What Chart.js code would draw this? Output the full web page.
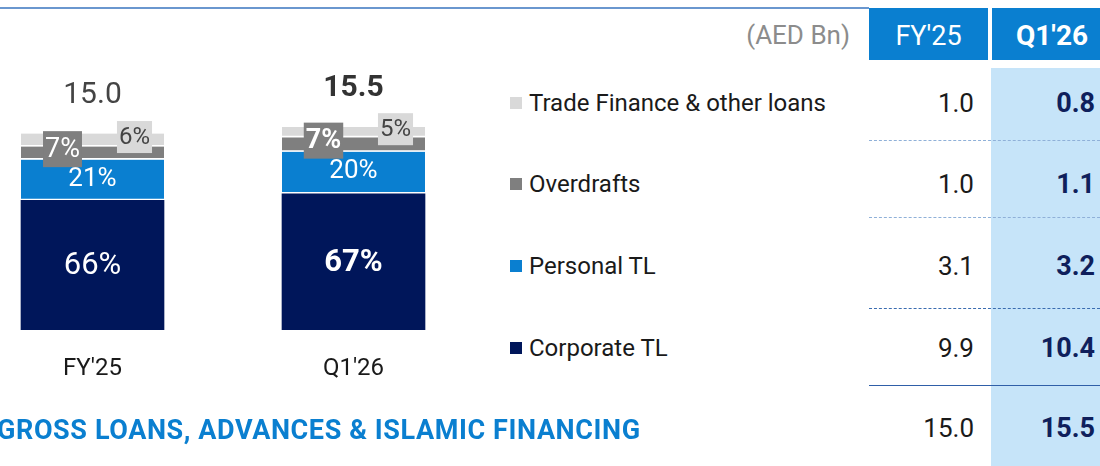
<!DOCTYPE html>
<html>
<head>
<meta charset="utf-8">
<script src="https://cdn.jsdelivr.net/npm/chart.js@4.4.1/dist/chart.umd.min.js"></script>
<style>
  html, body { margin: 0; padding: 0; background: #fff; }
  body { width: 1100px; height: 466px; position: relative; overflow: hidden; font-family: Roboto, sans-serif; }
  #chartBox { position: absolute; left: -38px; top: 0; width: 522px; height: 466px; }
  .t { position: absolute; line-height: 1; transform: translateY(-50%); white-space: nowrap; }
  .topline { position: absolute; left: 0; top: 7px; width: 869px; height: 0; border-top: 2px solid #6a97cf; }
  .hcell { position: absolute; top: 8px; height: 52px; background: #0a7fd0; }
  .qcol { position: absolute; left: 991px; top: 68px; width: 109px; height: 398px; background: #c6e4f9; }
  .sep { position: absolute; left: 869px; width: 231px; height: 0; }
  .sq { position: absolute; left: 510px; width: 12px; height: 12px; transform: translateY(-50%); }
</style>
</head>
<body>
<div class="topline"></div>
<div class="hcell" style="left:869px;width:119px;"></div>
<div class="hcell" style="left:992px;width:108px;"></div>
<div class="qcol"></div>
<div id="table"></div>
<div id="chartBox"><canvas id="loansChart"></canvas></div>
<div class="t" style="left:-3px;top:430px;font-size:27px;font-weight:bold;color:#0a7fd0;letter-spacing:0.6px;">GROSS LOANS, ADVANCES &amp; ISLAMIC FINANCING</div>

<script>
// data
const categories = ["FY'25", "Q1'26"];
const seriesNames = ['Corporate TL', 'Personal TL', 'Overdrafts', 'Trade Finance & other loans'];
const corporateTL = [9.9, 10.4];
const personalTL = [3.1, 3.2];
const overdrafts = [1.0, 1.1];
const tradeFinance = [1.0, 0.8];
const totals = [15.0, 15.5];
const corporatePct = ['66%', '67%'];
const personalPct = ['21%', '20%'];
const overdraftPct = ['7%', '7%'];
const tradePct = ['6%', '5%'];

const colors = ['#00165a', '#0a7fd0', '#7f7f7f', '#d9d9d9'];
const FONT = 'Roboto, sans-serif';

// table on the right (rows top to bottom)
const rowY = [103, 184, 266, 348];
const rowSeries = [3, 2, 1, 0];
const allSeries = [corporateTL, personalTL, overdrafts, tradeFinance];
let html = '';
html += '<div class="t" style="right:250px;top:35px;font-size:26px;color:#8c8c8c;">(AED Bn)</div>';
html += '<div class="t" style="left:869px;width:119px;text-align:center;top:36px;font-size:27px;color:#fff;">' + categories[0] + '</div>';
html += '<div class="t" style="left:1016px;top:36px;font-size:28px;font-weight:bold;color:#fff;">' + categories[1] + '</div>';
rowY.forEach(function(y, r) {
    const s = rowSeries[r];
    html += '<div class="sq" style="top:' + y + 'px;background:' + colors[s] + ';"></div>';
    html += '<div class="t" style="left:529px;top:' + y + 'px;font-size:24px;color:#1a1a1a;">' + seriesNames[s].replace('&', '&amp;') + '</div>';
    html += '<div class="t" style="right:126px;top:' + y + 'px;font-size:26px;color:#1a1a1a;">' + allSeries[s][0].toFixed(1) + '</div>';
    html += '<div class="t" style="right:5px;top:' + y + 'px;font-size:27px;font-weight:bold;color:#0f1f5c;">' + allSeries[s][1].toFixed(1) + '</div>';
});
html += '<div class="t" style="right:126px;top:428px;font-size:26px;color:#1a1a1a;">' + totals[0].toFixed(1) + '</div>';
html += '<div class="t" style="right:5px;top:428px;font-size:27px;font-weight:bold;color:#0f1f5c;">' + totals[1].toFixed(1) + '</div>';
html += '<div class="sep" style="top:140px;border-top:1px dashed #8fb0d8;"></div>';
html += '<div class="sep" style="top:217px;border-top:1px dashed #8fb0d8;"></div>';
html += '<div class="sep" style="top:308px;border-top:1px dashed #3a6cb0;"></div>';
html += '<div class="sep" style="top:385px;border-top:1.5px solid #2f5fa8;"></div>';
document.getElementById('table').innerHTML = html;

// labels drawn on the bars
const barLabels = {
    id: 'barLabels',
    afterDatasetsDraw(chart) {
        const ctx = chart.ctx;
        ctx.save();
        ctx.textAlign = 'center';
        ctx.textBaseline = 'middle';
        const pctSets = [corporatePct, personalPct, overdraftPct, tradePct];
        chart.data.datasets.forEach(function(ds, d) {
            const meta = chart.getDatasetMeta(d);
            meta.data.forEach(function(bar, i) {
                const bold = i === 1 && (d === 0 || d === 2);
                const cy = (bar.y + bar.base) / 2;
                const txt = pctSets[d][i];
                if (d === 0) {
                    ctx.font = (bold ? 'bold ' : '') + '31px ' + FONT;
                    ctx.fillStyle = '#fff';
                    ctx.fillText(txt, bar.x, cy + 1);
                } else if (d === 1) {
                    ctx.font = '26px ' + FONT;
                    ctx.fillStyle = '#fff';
                    ctx.fillText(txt, bar.x, cy - 1);
                } else if (d === 2) {
                    ctx.font = (bold ? 'bold ' : '') + '27px ' + FONT;
                    const w = ctx.measureText(txt).width + 4;
                    const x = bar.x - 30, y = cy - 4;
                    ctx.fillStyle = colors[2];
                    ctx.fillRect(x - w / 2, y - 18, w, 36);
                    ctx.fillStyle = '#fff';
                    ctx.fillText(txt, x, y + 1);
                } else {
                    ctx.font = '24px ' + FONT;
                    const w = ctx.measureText(txt).width + 4;
                    const x = bar.x + 42, y = cy - 3;
                    ctx.fillStyle = colors[3];
                    ctx.fillRect(x - w / 2, y - 16, w, 32);
                    ctx.fillStyle = '#444';
                    ctx.fillText(txt, x, y + 1);
                }
            });
        });
        // totals and category names
        const top = chart.getDatasetMeta(3);
        const yScale = chart.scales.y;
        top.data.forEach(function(bar, i) {
            ctx.font = (i === 1 ? 'bold ' : '') + '30px ' + FONT;
            ctx.fillStyle = i === 1 ? '#333' : '#444';
            ctx.fillText(totals[i].toFixed(1), bar.x, yScale.getPixelForValue(totals[i]) - 38);
            ctx.font = '24px ' + FONT;
            ctx.fillStyle = '#1a1a1a';
            ctx.fillText(categories[i], bar.x, yScale.getPixelForValue(0) + 39);
        });
        ctx.restore();
    }
};

const ctx = document.getElementById('loansChart').getContext('2d');
const chart = new Chart(ctx, {
    type: 'bar',
    data: {
        labels: categories,
        datasets: [
            { label: seriesNames[0], data: corporateTL, backgroundColor: colors[0], borderWidth: 0 },
            { label: seriesNames[1], data: personalTL, backgroundColor: colors[1], borderColor: '#fff', borderWidth: { top: 0, left: 0, right: 0, bottom: 2 }, borderSkipped: false },
            { label: seriesNames[2], data: overdrafts, backgroundColor: colors[2], borderColor: '#fff', borderWidth: { top: 0, left: 0, right: 0, bottom: 2 }, borderSkipped: false },
            { label: seriesNames[3], data: tradeFinance, backgroundColor: colors[3], borderColor: '#fff', borderWidth: { top: 0, left: 0, right: 0, bottom: 2 }, borderSkipped: false }
        ]
    },
    options: {
        responsive: true,
        maintainAspectRatio: false,
        animation: false,
        layout: { padding: { top: 68, bottom: 136, left: 0, right: 0 } },
        datasets: { bar: { barThickness: 143 } },
        plugins: { legend: { display: false }, tooltip: { enabled: false } },
        scales: {
            x: { stacked: true, display: false },
            y: { stacked: true, display: false, min: 0, max: 20 }
        }
    },
    plugins: [barLabels]
});
</script>
</body>
</html>
